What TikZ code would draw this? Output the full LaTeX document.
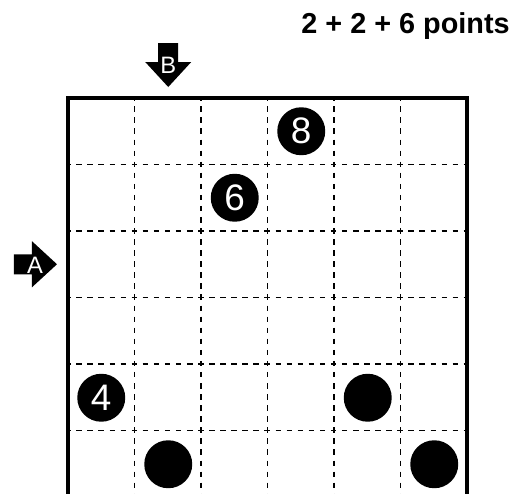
\documentclass[tikz,border=0pt]{standalone}
\usepackage{fontspec}
\setmainfont{Liberation Sans}
\usetikzlibrary{positioning}

\begin{document}
\begin{tikzpicture}[
    x=0.02cm, y=-0.02cm,
    gridline/.style={line width=0.75pt, dash pattern=on 3.15pt off 3.15pt, dash phase=1.575pt},
    border/.style={line width=2.3pt},
    disc/.style={circle, fill=black, inner sep=0pt, minimum size=0.96cm, text=white, font=\fontsize{21}{22}\selectfont},
    letter/.style={inner sep=0pt, text=white, font=\fontsize{13.5}{14}\selectfont},
    title/.style={anchor=base east, inner sep=0pt, font=\bfseries\fontsize{16.4}{19}\selectfont}
]
\useasboundingbox (0,0) rectangle (522,494);
\clip (0,0) rectangle (522,494);

% heading
\node[title] (pts) at (510,33) {2 + 2 + 6 points};

% dashed inner lines
\foreach \k in {1,...,5} {
  \draw[gridline] (68+66.5*\k,98) -- (68+66.5*\k,497);
  \draw[gridline] (68,98+66.5*\k) -- (467,98+66.5*\k);
}
% outer frame
\draw[border] (68,98) rectangle (467,497);

% entry arrows
\fill (158.25,43) -- (178.25,43) -- (178.25,62) -- (191.25,62) -- (168.25,87) -- (145.25,62) -- (158.25,62) -- cycle;
\node[letter] (B) at (168.25,65) {B};
\fill (14,254.25) -- (32,254.25) -- (32,241.25) -- (57,264.25) -- (32,287.25) -- (32,274.25) -- (14,274.25) -- cycle;
\node[letter] (A) at (35,265.5) {A};

% discs
\node[disc] (d8) at (301.25,131.25) {8};
\node[disc] (d6) at (234.75,197.75) {6};
\node[disc] (d4) at (101.25,397.75) {4};
\node[disc] (e1) at (168.25,464.25) {};
\node[disc] (e2) at (367.75,397.75) {};
\node[disc] (e3) at (434.25,464.25) {};
\end{tikzpicture}
\end{document}
